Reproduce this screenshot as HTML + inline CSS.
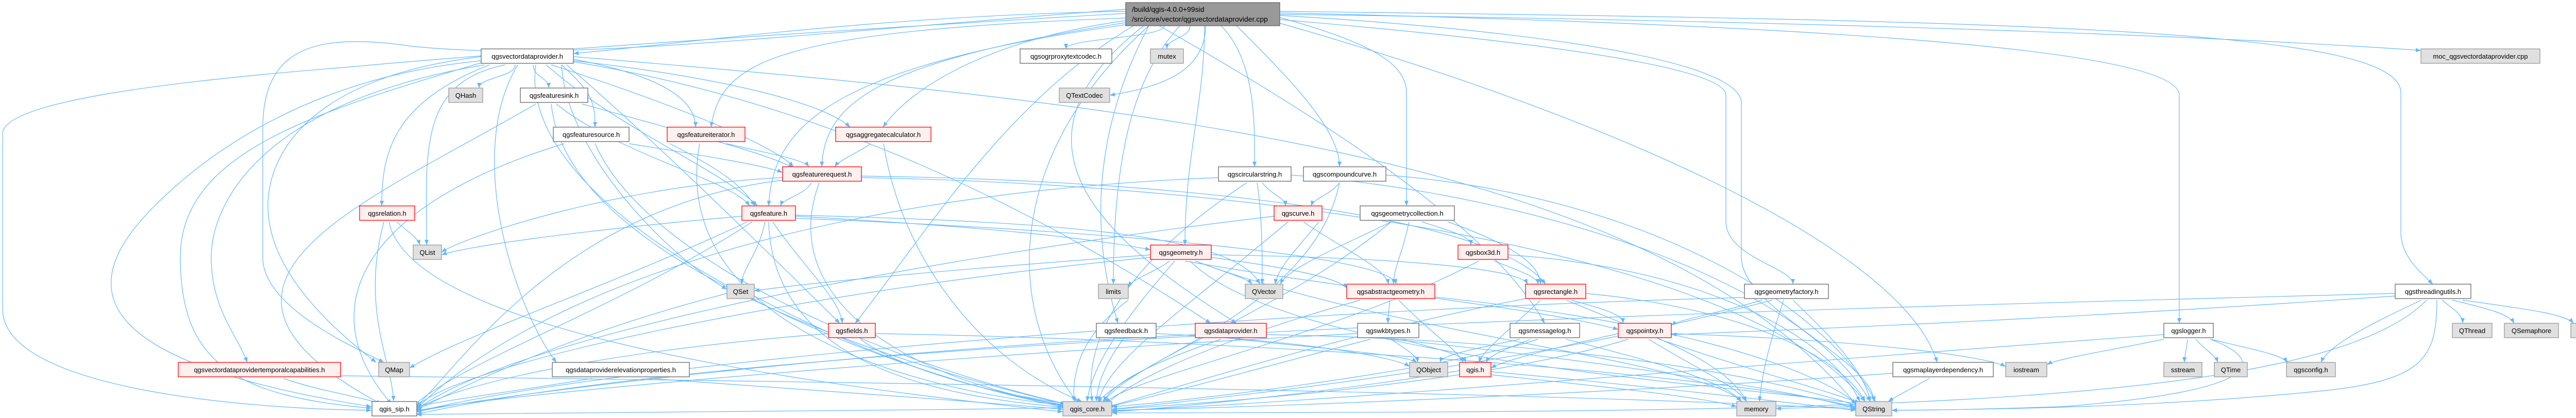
<!DOCTYPE html>
<html><head><meta charset="utf-8"><style>
html,body{margin:0;padding:0;background:#fff;}
svg{display:block;}
text{font-family:"Liberation Sans",sans-serif;font-size:13px;fill:#000;}
.e{fill:none;stroke:#63b8ff;stroke-width:1.2;marker-end:url(#a);}
.w{fill:#fff;stroke:#666;stroke-width:1.3;}
.g{fill:#e0e0e0;stroke:#999;stroke-width:1.3;}
.r{fill:#fff0f0;stroke:#f00;stroke-width:1.3;}
</style></head><body>
<svg width="5130" height="812" viewBox="0 0 5130 812" xmlns="http://www.w3.org/2000/svg">
<defs><marker id="a" markerUnits="userSpaceOnUse" markerWidth="11" markerHeight="8" refX="10" refY="4" orient="auto"><path d="M0,0 L10,4 L0,8 z" fill="#63b8ff"/></marker></defs>
<g>
<!-- from main -->
<path class="e" d="M2185 22 C1700 30 1300 88 1113 104"/>
<path class="e" d="M2260 50 C2260 74 2069 74 2069 95"/>
<path class="e" d="M2310 50 C2310 74 2265 74 2265 95"/>
<path class="e" d="M2340 50 C2340 140 2250 170 2154 185"/>
<path class="e" d="M2484 28 C3500 40 4300 70 4699 98"/>
<path class="e" d="M2185 35 C1500 60 1400 120 1380 247"/>
<path class="e" d="M2185 40 C1900 80 1760 180 1714 247"/>
<path class="e" d="M2185 44 C1700 120 1600 200 1595 324"/>
<path class="e" d="M2185 48 C1600 130 1500 250 1492 400"/>
<path class="e" d="M2200 50 C1950 200 1800 450 1660 628"/>
<path class="e" d="M2370 50 C2440 120 2435 250 2435 324"/>
<path class="e" d="M2400 50 C2500 150 2600 250 2600 324"/>
<path class="e" d="M2484 34 C2650 80 2730 120 2730 180 L2730 400"/>
<path class="e" d="M2338 50 C2338 200 2300 300 2300 476"/>
<path class="e" d="M2290 50 C2200 150 2161 300 2161 552"/>
<path class="e" d="M2230 50 C2150 200 2100 400 2170 628"/>
<path class="e" d="M2220 50 C1900 300 2200 500 2400 628"/>
<path class="e" d="M2484 38 C3100 90 3350 140 3350 185 L3350 430 C3350 500 3480 520 3480 552"/>
<path class="e" d="M2484 25 C3600 50 4230 100 4230 185 L4230 628"/>
<path class="e" d="M2484 22 C4000 40 4660 60 4660 180 L4660 450 C4660 500 4700 530 4722 552"/>
<path class="e" d="M2484 30 C3000 60 3380 120 3380 200 L3380 500 C3380 600 3637 700 3637 780"/>
<path class="e" d="M2484 45 C3200 250 3700 500 3760 704"/>
<path class="e" d="M2250 50 C2600 250 2900 450 2998 628"/>
<path class="e" d="M2230 50 C1950 300 1950 600 2090 780"/>
<path class="e" d="M2185 18 C1500 70 1100 120 800 90 C600 60 510 100 510 250 L510 500 C510 600 700 680 745 704"/>
<path class="e" d="M2185 26 C1600 60 1000 100 680 130 C300 160 5 200 5 260 L5 600 C5 760 500 795 721 797"/>
<!-- from VDP -->
<path class="e" d="M1000 126 C1000 150 930 150 930 171"/>
<path class="e" d="M1035 126 C1035 150 1065 150 1065 171"/>
<path class="e" d="M1090 126 C1150 180 1155 200 1155 247"/>
<path class="e" d="M950 126 C760 200 741 300 741 400"/>
<path class="e" d="M980 126 C810 160 828 300 828 476"/>
<path class="e" d="M940 126 C500 200 410 400 410 500 C410 600 460 650 480 704"/>
<path class="e" d="M934 110 C600 150 520 300 520 400 C520 550 700 680 730 704"/>
<path class="e" d="M1005 126 C900 300 1000 600 1080 704"/>
<path class="e" d="M934 118 C600 150 400 300 300 400 C150 550 150 700 721 790"/>
<path class="e" d="M934 122 C600 220 350 300 350 500 C350 700 450 770 721 793"/>
<path class="e" d="M1040 126 C1000 400 1600 700 2063 790"/>
<path class="e" d="M1060 126 C1200 250 1400 330 1470 400"/>
<path class="e" d="M1070 126 C1300 200 1500 280 1540 324"/>
<path class="e" d="M1113 115 C1300 150 1350 200 1350 247"/>
<path class="e" d="M1113 118 C1400 150 1600 200 1650 247"/>
<path class="e" d="M1113 110 C2200 200 3200 300 3602 785"/>
<path class="e" d="M1113 120 C1600 200 2000 400 2350 628"/>
<path class="e" d="M1100 126 C1300 300 1500 500 1630 628"/>
<path class="e" d="M1090 126 C1100 300 1300 500 1411 562"/>
<!-- sink, source, iter, aggr -->
<path class="e" d="M1130 202 C1300 250 1500 300 1540 327"/>
<path class="e" d="M1040 202 C700 400 300 550 740 785"/>
<path class="e" d="M1070 202 C1100 500 1700 700 2068 785"/>
<path class="e" d="M1080 202 C1200 300 1420 350 1455 400"/>
<path class="e" d="M1221 279 C1350 300 1480 320 1519 335"/>
<path class="e" d="M1095 279 C700 400 600 600 760 785"/>
<path class="e" d="M1155 279 C1250 500 1700 700 2075 786"/>
<path class="e" d="M1410 279 C1500 300 1560 310 1570 324"/>
<path class="e" d="M1358 279 C1300 600 1700 750 2070 788"/>
<path class="e" d="M1300 279 C1400 330 1440 360 1465 400"/>
<path class="e" d="M1690 279 C1660 300 1630 310 1620 324"/>
<path class="e" d="M1715 279 C1750 500 1900 700 2100 780"/>
<!-- freq -->
<path class="e" d="M1575 355 C1560 380 1520 385 1515 400"/>
<path class="e" d="M1590 355 C1500 600 1800 750 2090 790"/>
<path class="e" d="M1519 345 C1200 360 900 460 857 490"/>
<path class="e" d="M1519 350 C1100 400 900 700 808 790"/>
<path class="e" d="M1672 342 C2300 350 2900 420 3000 552"/>
<path class="e" d="M1672 345 C2500 360 3400 500 3620 780"/>
<!-- circ comp -->
<path class="e" d="M2450 355 C2470 380 2495 385 2495 400"/>
<path class="e" d="M2440 355 C2450 420 2450 500 2450 552"/>
<path class="e" d="M2365 345 C1500 380 1000 600 808 795"/>
<path class="e" d="M2420 355 C2200 500 2100 650 2120 780"/>
<path class="e" d="M2506 340 C3000 380 3500 550 3630 780"/>
<path class="e" d="M2600 355 C2580 380 2550 385 2545 400"/>
<path class="e" d="M2600 355 C2550 600 2200 700 2130 782"/>
<path class="e" d="M2690 340 C3200 380 3550 600 3640 780"/>
<!-- relation -->
<path class="e" d="M770 431 C790 450 810 460 815 476"/>
<path class="e" d="M745 431 C700 600 760 700 764 779"/>
<path class="e" d="M755 431 C800 650 1600 750 2063 800"/>
<!-- feature -->
<path class="e" d="M1485 431 C1470 500 1440 520 1440 552"/>
<path class="e" d="M1500 431 C1560 520 1630 580 1635 628"/>
<path class="e" d="M1544 420 C1900 440 2100 460 2233 485"/>
<path class="e" d="M1492 431 C1500 700 1800 770 2075 792"/>
<path class="e" d="M1460 431 C1200 600 900 700 800 790"/>
<path class="e" d="M1440 420 C1100 450 900 480 857 495"/>
<path class="e" d="M1544 418 C2000 430 2400 450 2445 552"/>
<path class="e" d="M1450 431 C1200 550 900 650 795 715"/>
<path class="e" d="M1544 424 C2200 450 2700 500 2710 552"/>
<!-- curve geomcoll geometry -->
<path class="e" d="M2530 431 C2600 480 2690 520 2695 552"/>
<path class="e" d="M2560 431 C2520 480 2480 520 2475 552"/>
<path class="e" d="M2473 420 C1800 500 1000 650 808 796"/>
<path class="e" d="M2500 431 C2300 600 2150 700 2132 780"/>
<path class="e" d="M2760 431 C2820 450 2855 460 2855 476"/>
<path class="e" d="M2735 431 C2720 500 2705 520 2705 552"/>
<path class="e" d="M2810 431 C2950 480 2990 520 2990 552"/>
<path class="e" d="M2700 431 C2600 480 2500 520 2485 552"/>
<path class="e" d="M2700 431 C2500 600 2200 700 2140 782"/>
<path class="e" d="M2270 507 C2240 530 2200 540 2190 557"/>
<path class="e" d="M2320 507 C2380 530 2420 540 2430 552"/>
<path class="e" d="M2233 495 C1900 520 1600 545 1464 565"/>
<path class="e" d="M2351 500 C2500 520 2600 540 2614 560"/>
<path class="e" d="M2300 507 C2600 560 3000 600 3141 640"/>
<path class="e" d="M2280 507 C2200 600 2120 700 2110 780"/>
<path class="e" d="M2310 507 C2500 700 3400 750 3610 785"/>
<path class="e" d="M2320 507 C2700 650 3300 700 3380 780"/>
<path class="e" d="M2233 500 C1600 560 900 700 808 790"/>
<path class="e" d="M2351 495 C2700 500 2950 520 2965 552"/>
<!-- box3d absgeom rect -->
<path class="e" d="M2900 507 C2960 530 2985 540 2985 552"/>
<path class="e" d="M2870 507 C2600 650 2200 730 2145 782"/>
<path class="e" d="M2927 495 C3300 520 3550 650 3610 780"/>
<path class="e" d="M2698 583 C2696 600 2694 610 2694 628"/>
<path class="e" d="M2715 583 C2780 650 2830 680 2840 704"/>
<path class="e" d="M2640 583 C2400 650 2200 730 2145 788"/>
<path class="e" d="M2785 577 C3200 620 3500 700 3610 788"/>
<path class="e" d="M3050 583 C3110 600 3150 610 3150 628"/>
<path class="e" d="M2990 583 C2920 650 2880 680 2870 704"/>
<path class="e" d="M2961 580 C2600 650 2300 750 2150 790"/>
<path class="e" d="M3078 570 C3400 600 3580 700 3620 780"/>
<path class="e" d="M3040 583 C3200 650 3350 700 3390 780"/>
<!-- gfactory threading logger -->
<path class="e" d="M3420 583 C3330 610 3260 620 3244 632"/>
<path class="e" d="M3462 583 C3440 650 3420 720 3415 780"/>
<path class="e" d="M3480 583 C3550 650 3620 720 3630 780"/>
<path class="e" d="M3440 583 C3000 700 2500 760 2158 795"/>
<path class="e" d="M3386 578 C2500 600 1200 700 808 800"/>
<path class="e" d="M4740 583 C4760 600 4780 610 4780 628"/>
<path class="e" d="M4760 583 C4830 600 4870 610 4880 628"/>
<path class="e" d="M4780 583 C4900 600 4980 610 4995 628"/>
<path class="e" d="M4700 583 C4600 630 4520 670 4505 704"/>
<path class="e" d="M4710 583 C4500 800 3500 800 2158 802"/>
<path class="e" d="M4730 583 C4730 700 4700 740 4500 760 C4200 790 3900 795 3672 797"/>
<path class="e" d="M4649 570 C3500 600 1500 650 808 805"/>
<path class="e" d="M4649 575 C4000 620 3500 640 3244 650"/>
<path class="e" d="M4200 659 C4100 680 4000 695 3973 708"/>
<path class="e" d="M4246 659 C4244 680 4240 690 4240 704"/>
<path class="e" d="M4262 659 C4280 680 4300 690 4305 704"/>
<path class="e" d="M4290 659 C4380 680 4430 690 4440 704"/>
<path class="e" d="M4290 659 C4400 700 4400 760 4000 790 C3850 795 3750 797 3672 797"/>
<path class="e" d="M4200 650 C3500 700 2600 780 2158 798"/>
<!-- fields feedback dataprov wkb msglog pointxy -->
<path class="e" d="M1670 659 C1750 720 1950 770 2080 785"/>
<path class="e" d="M1608 648 C1200 680 900 740 808 795"/>
<path class="e" d="M1699 648 C2400 660 3300 720 3600 790"/>
<path class="e" d="M2180 659 C2150 700 2130 740 2128 780"/>
<path class="e" d="M2244 648 C2500 660 2700 690 2736 712"/>
<path class="e" d="M2400 659 C2600 680 2730 690 2750 704"/>
<path class="e" d="M2370 659 C2250 700 2160 740 2142 780"/>
<path class="e" d="M2320 650 C1700 680 1000 760 808 800"/>
<path class="e" d="M2458 650 C3000 660 3400 720 3610 790"/>
<path class="e" d="M2700 659 C2730 680 2750 690 2752 704"/>
<path class="e" d="M2720 659 C2800 680 2840 690 2845 704"/>
<path class="e" d="M2660 659 C2500 700 2250 770 2150 790"/>
<path class="e" d="M2700 659 C3100 700 3500 760 3605 795"/>
<path class="e" d="M2635 648 C2000 680 1000 760 808 798"/>
<path class="e" d="M2970 659 C2920 680 2890 690 2885 704"/>
<path class="e" d="M2950 659 C2850 680 2800 690 2795 704"/>
<path class="e" d="M2985 659 C2800 720 2300 780 2158 790"/>
<path class="e" d="M3040 659 C3200 700 3350 740 3380 780"/>
<path class="e" d="M3141 648 C3000 680 2920 700 2894 715"/>
<path class="e" d="M3160 659 C2900 740 2400 780 2158 795"/>
<path class="e" d="M3220 659 C3400 720 3550 760 3610 783"/>
<path class="e" d="M3200 659 C3300 720 3370 750 3390 780"/>
<path class="e" d="M3244 648 C3600 660 3850 690 3893 712"/>
<!-- bottom rows -->
<path class="e" d="M550 735 C620 760 700 770 740 785"/>
<path class="e" d="M661 730 C1500 740 3000 760 3602 795"/>
<path class="e" d="M1150 735 C1000 760 880 775 808 790"/>
<path class="e" d="M1260 735 C1600 760 1900 780 2063 795"/>
<path class="e" d="M2833 720 C2600 760 2300 790 2158 800"/>
<path class="e" d="M2894 722 C3200 750 3450 780 3602 797"/>
<path class="e" d="M2894 728 C3100 750 3300 770 3371 790"/>
<path class="e" d="M3745 735 C3710 755 3680 770 3665 780"/>
<path class="e" d="M3674 725 C3200 760 2500 790 2158 797"/>
<path class="e" d="M3672 790 C3550 790 3500 792 3447 794"/>
<path class="e" d="M2063 792 C1600 800 1100 805 808 805"/>
<path class="e" d="M2190 583 C2100 650 2080 720 2085 780"/>
<path class="e" d="M1464 575 C1700 700 1900 760 2068 788"/>
<path class="e" d="M1411 570 C1100 650 900 750 808 797"/>
</g>
<g>
<rect class="g" x="2185" y="5" width="299" height="45" style="fill:#999;stroke:#666"/>
<text x="2197" y="23" style="font-size:14px">/build/qgis-4.0.0+99sid</text>
<text x="2197" y="42" style="font-size:14px">/src/core/vector/qgsvectordataprovider.cpp</text>

<rect class="w" x="934" y="95" width="179" height="28"/><text x="1023.5" y="114" text-anchor="middle">qgsvectordataprovider.h</text>
<rect class="w" x="1980" y="95" width="178" height="28"/><text x="2069" y="114" text-anchor="middle">qgsogrproxytextcodec.h</text>
<rect class="g" x="2233" y="95" width="64" height="28"/><text x="2265" y="114" text-anchor="middle">mutex</text>
<rect class="g" x="4699" y="95" width="231" height="28"/><text x="4814.5" y="114" text-anchor="middle">moc_qgsvectordataprovider.cpp</text>

<rect class="g" x="871" y="171" width="66" height="28"/><text x="904" y="190" text-anchor="middle">QHash</text>
<rect class="w" x="1010" y="171" width="131" height="28"/><text x="1075.5" y="190" text-anchor="middle">qgsfeaturesink.h</text>
<rect class="g" x="2056" y="171" width="98" height="28"/><text x="2105" y="190" text-anchor="middle">QTextCodec</text>

<rect class="w" x="1074" y="247" width="147" height="28"/><text x="1147.5" y="266" text-anchor="middle">qgsfeaturesource.h</text>
<rect class="r" x="1295" y="247" width="151" height="28"/><text x="1370.5" y="266" text-anchor="middle">qgsfeatureiterator.h</text>
<rect class="r" x="1622" y="247" width="185" height="28"/><text x="1714.5" y="266" text-anchor="middle">qgsaggregatecalculator.h</text>

<rect class="r" x="1519" y="324" width="153" height="28"/><text x="1595.5" y="343" text-anchor="middle">qgsfeaturerequest.h</text>
<rect class="w" x="2365" y="324" width="141" height="28"/><text x="2435.5" y="343" text-anchor="middle">qgscircularstring.h</text>
<rect class="w" x="2530" y="324" width="160" height="28"/><text x="2610" y="343" text-anchor="middle">qgscompoundcurve.h</text>

<rect class="r" x="698" y="400" width="107" height="28"/><text x="751.5" y="419" text-anchor="middle">qgsrelation.h</text>
<rect class="r" x="1440" y="400" width="104" height="28"/><text x="1492" y="419" text-anchor="middle">qgsfeature.h</text>
<rect class="r" x="2473" y="400" width="93" height="28"/><text x="2519.5" y="419" text-anchor="middle">qgscurve.h</text>
<rect class="w" x="2640" y="400" width="183" height="28"/><text x="2731.5" y="419" text-anchor="middle">qgsgeometrycollection.h</text>

<rect class="g" x="802" y="476" width="55" height="28"/><text x="829.5" y="495" text-anchor="middle">QList</text>
<rect class="r" x="2233" y="476" width="118" height="28"/><text x="2292" y="495" text-anchor="middle">qgsgeometry.h</text>
<rect class="r" x="2830" y="476" width="97" height="28"/><text x="2878.5" y="495" text-anchor="middle">qgsbox3d.h</text>

<rect class="g" x="1411" y="552" width="53" height="28"/><text x="1437.5" y="571" text-anchor="middle">QSet</text>
<rect class="g" x="2132" y="552" width="58" height="28"/><text x="2161" y="571" text-anchor="middle">limits</text>
<rect class="g" x="2417" y="552" width="73" height="28"/><text x="2453.5" y="571" text-anchor="middle">QVector</text>
<rect class="r" x="2614" y="552" width="171" height="28"/><text x="2699.5" y="571" text-anchor="middle">qgsabstractgeometry.h</text>
<rect class="r" x="2961" y="552" width="117" height="28"/><text x="3019.5" y="571" text-anchor="middle">qgsrectangle.h</text>
<rect class="w" x="3386" y="552" width="163" height="28"/><text x="3467.5" y="571" text-anchor="middle">qgsgeometryfactory.h</text>
<rect class="w" x="4649" y="552" width="147" height="28"/><text x="4722.5" y="571" text-anchor="middle">qgsthreadingutils.h</text>

<rect class="r" x="1608" y="628" width="91" height="28"/><text x="1653.5" y="647" text-anchor="middle">qgsfields.h</text>
<rect class="w" x="2128" y="628" width="116" height="28"/><text x="2186" y="647" text-anchor="middle">qgsfeedback.h</text>
<rect class="r" x="2320" y="628" width="138" height="28"/><text x="2389" y="647" text-anchor="middle">qgsdataprovider.h</text>
<rect class="w" x="2635" y="628" width="119" height="28"/><text x="2694.5" y="647" text-anchor="middle">qgswkbtypes.h</text>
<rect class="w" x="2931" y="628" width="135" height="28"/><text x="2998.5" y="647" text-anchor="middle">qgsmessagelog.h</text>
<rect class="r" x="3141" y="628" width="103" height="28"/><text x="3192.5" y="647" text-anchor="middle">qgspointxy.h</text>
<rect class="w" x="4200" y="628" width="96" height="28"/><text x="4248" y="647" text-anchor="middle">qgslogger.h</text>
<rect class="g" x="4760" y="628" width="77" height="28"/><text x="4798.5" y="647" text-anchor="middle">QThread</text>
<rect class="g" x="4861" y="628" width="105" height="28"/><text x="4913.5" y="647" text-anchor="middle">QSemaphore</text>
<rect class="g" x="4990" y="628" width="134" height="28"/><text x="5057" y="647" text-anchor="middle">QCoreApplication</text>

<rect class="r" x="346" y="704" width="315" height="28"/><text x="503.5" y="723" text-anchor="middle">qgsvectordataprovidertemporalcapabilities.h</text>
<rect class="g" x="735" y="704" width="60" height="28"/><text x="765" y="723" text-anchor="middle">QMap</text>
<rect class="w" x="1072" y="704" width="266" height="28"/><text x="1205" y="723" text-anchor="middle">qgsdataproviderelevationproperties.h</text>
<rect class="g" x="2736" y="704" width="74" height="28"/><text x="2773" y="723" text-anchor="middle">QObject</text>
<rect class="r" x="2833" y="704" width="61" height="28"/><text x="2863.5" y="723" text-anchor="middle">qgis.h</text>
<rect class="w" x="3674" y="704" width="195" height="28"/><text x="3771.5" y="723" text-anchor="middle">qgsmaplayerdependency.h</text>
<rect class="g" x="3893" y="704" width="80" height="28"/><text x="3933" y="723" text-anchor="middle">iostream</text>
<rect class="g" x="4200" y="704" width="74" height="28"/><text x="4237" y="723" text-anchor="middle">sstream</text>
<rect class="g" x="4298" y="704" width="64" height="28"/><text x="4330" y="723" text-anchor="middle">QTime</text>
<rect class="g" x="4438" y="704" width="95" height="28"/><text x="4485.5" y="723" text-anchor="middle">qgsconfig.h</text>

<rect class="w" x="722" y="780" width="87" height="28"/><text x="765.5" y="799" text-anchor="middle">qgis_sip.h</text>
<rect class="g" x="2063" y="780" width="95" height="28"/><text x="2110.5" y="799" text-anchor="middle">qgis_core.h</text>
<rect class="g" x="3371" y="780" width="76" height="28"/><text x="3409" y="799" text-anchor="middle">memory</text>
<rect class="g" x="3602" y="780" width="70" height="28"/><text x="3637" y="799" text-anchor="middle">QString</text>
</g>
</svg>
</body></html>
